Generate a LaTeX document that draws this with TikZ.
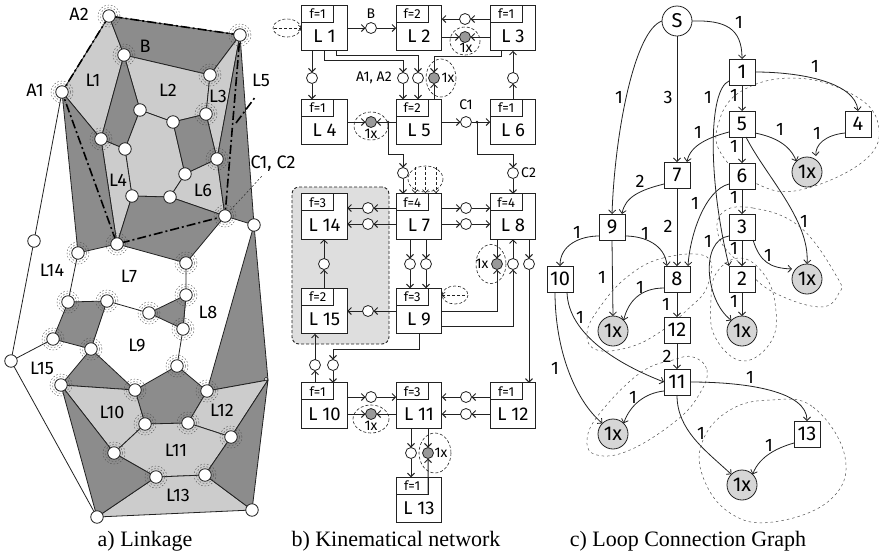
\documentclass[tikz,border=0pt]{standalone}
\usepackage{fontspec}
\setmainfont{Fira Sans}
\newfontfamily\capfont{Liberation Serif}
\usetikzlibrary{arrows.meta}
\definecolor{lgray}{HTML}{CCCCCC}
\definecolor{dgray}{HTML}{8C8C8C}
\definecolor{bggray}{HTML}{DEDEDE}
\definecolor{ball}{HTML}{999999}
\definecolor{ballb}{HTML}{D6D6D6}
\definecolor{ink}{HTML}{222222}
\newcommand{\fs}[1]{\fontsize{#1}{#1}\selectfont}
\tikzset{
  lightp/.style={fill=lgray,draw=ink,line width=.8pt,line join=round},
  darkp/.style={fill=dgray,draw=ink,line width=.8pt,line join=round},
  wire/.style={draw=ink,line width=.8pt},
  chain/.style={draw=black,line width=1.6pt,dash pattern=on 9pt off 3pt on 2pt off 3pt},
  joint/.style={circle,draw=ink,fill=white,line width=.8pt,minimum size=12.5pt,inner sep=0pt,outer sep=0pt},
  ringa/.style={circle,draw=ink!80,dash pattern=on 1.6pt off 1.8pt,line width=.4pt,minimum size=17pt,inner sep=0pt},
  ringb/.style={circle,draw=ink!80,dash pattern=on 1.6pt off 1.8pt,line width=.4pt,minimum size=22pt,inner sep=0pt},
  lab/.style={inner sep=0pt,font=\fs{18}},
  netbox/.style={draw=ink,fill=white,line width=1pt,minimum width=45.5pt,minimum height=45.5pt,inner sep=0pt,outer sep=0pt,font=\fs{18.5}},
  fbox/.style={draw=ink,fill=white,line width=1pt,minimum width=32pt,minimum height=17pt,inner sep=0pt,outer sep=0pt,anchor=north west,font=\fs{13}},
  pin/.style={circle,draw=ink,fill=white,line width=.8pt,minimum size=11pt,inner sep=0pt,outer sep=0pt},
  gpin/.style={pin,fill=ball},
  arr/.style={draw=ink,line width=1pt,-{Straight Barb[length=3.5pt,width=7pt,line width=1pt]}},
  dashar/.style={draw=ink,line width=.6pt,densely dashed,-{Straight Barb[length=3pt,width=6pt]}},
  ell/.style={draw=ink,line width=.6pt,densely dashed},
  small/.style={inner sep=0pt,font=\fs{14}},
  gbox/.style={draw=ink,fill=white,line width=.9pt,minimum size=26pt,inner sep=0pt,outer sep=0pt,font=\fs{20}},
  gball/.style={circle,draw=ink,fill=ballb,line width=.8pt,minimum size=30pt,inner sep=0pt,outer sep=0pt,font=\fs{20}},
  gS/.style={gball,fill=white},
  gedge/.style={draw=ink,line width=.8pt,-{Straight Barb[length=3.5pt,width=7pt]}},
  blob/.style={draw=ink!80,line width=.5pt,dash pattern=on 2.5pt off 3pt},
  caption/.style={inner sep=0pt,font=\capfont\fs{22}}
}
\begin{document}
\begin{tikzpicture}[x=1pt,y=-1pt]
\useasboundingbox (0,0) rectangle (879,558);
% ------------- a) Linkage -------------
\foreach \n/\x/\y in {A2/109/16,R/240/35,B/124/55,Pa/210/75,A1/62/92,a/140/110,b/173/122,c/206/114,d/101/139,e/125/149,f/217/159,g/185/174,h/132/196,i/170/197,C/225/216,k/254/225,m/117/244,n/78/253,o/186/263,p/34/241,q/68/302,r/107/301,s/149/313,t/186/295,u/183/329,v/53/339,w/91/349,x/11/361,y/177/366,z/61/385,aa/135/390,ab/207/391,ac/145/424,ad/188/423,ae/231/437,af/114/453,ag/156/477,ah/205/475,ai/252/510,aj/97/517,ak/268/380}
  \coordinate (\n) at (\x,\y);
\draw[wire] (A1)--(p)--(x)--(v) (x)--(aj) (n)--(q) (o)--(t)--(u)--(y) (r)--(s);
\draw[lightp] (A1)--(A2)--(B)--(d)--cycle;
\draw[darkp] (A2)--(R)--(Pa)--(B)--cycle;
\draw[lightp] (B)--(Pa)--(c)--(b)--(a)--cycle;
\draw[darkp] (B)--(a)--(e)--(d)--cycle;
\draw[lightp] (R)--(Pa)--(c)--(f)--cycle;
\draw[lightp] (a)--(b)--(g)--(i)--(h)--(e)--cycle;
\draw[darkp] (b)--(c)--(f)--(g)--cycle;
\draw[lightp] (f)--(C)--(i)--(g)--cycle;
\draw[lightp] (d)--(e)--(h)--(m)--cycle;
\draw[darkp] (h)--(i)--(C)--(o)--(m)--cycle;
\draw[darkp] (A1)--(d)--(m)--(n)--cycle;
\draw[darkp] (R)--(k)--(C)--(f)--cycle;
\draw[darkp] (k)--(ak)--(ab)--cycle;
\draw[darkp] (q)--(r)--(w)--(v)--cycle;
\draw[darkp] (s)--(t)--(u)--cycle;
\draw[darkp] (w)--(aa)--(z)--cycle;
\draw[darkp] (y)--(ab)--(ad)--(ac)--(aa)--cycle;
\draw[lightp] (z)--(aa)--(ac)--(af)--cycle;
\draw[lightp] (ab)--(ak)--(ae)--(ad)--cycle;
\draw[lightp] (ac)--(ad)--(ae)--(ah)--(ag)--(af)--cycle;
\draw[lightp] (ag)--(ah)--(ai)--(aj)--cycle;
\draw[darkp] (z)--(af)--(ag)--(aj)--cycle;
\draw[darkp] (ak)--(ai)--(ah)--(ae)--cycle;
\draw[chain] (A2)--(A1)--(m)--(C)--(R)--cycle;
\coordinate (L5a) at (236,123);
\coordinate (L5b) at (256,96);
\draw[chain] (L5a)--(L5b);
\coordinate (Cl) at (262,176);
\draw[draw=ink,line width=.5pt,dash pattern=on 2pt off 2pt] (C)--(Cl);
\foreach \n in {A2,R,B,Pa,A1,c,d,f,C,m,n,o,q,r,s,t,u,v,w,y,z,aa,ab,ac,ad,ae,af,ag,ah} {
  \node[ringa] (ra\n) at (\n) {};
  \node[ringb] (rb\n) at (\n) {};
}
\foreach \n in {A2,R,B,Pa,A1,a,b,c,d,e,f,g,h,i,C,k,m,n,o,p,q,r,s,t,u,v,w,x,y,z,aa,ab,ac,ad,ae,af,ag,ah,ai,aj}
  \node[joint] (j\n) at (\n) {};
\node[circle,draw=ink,line width=.4pt,fill=white,minimum size=3.5pt,inner sep=0pt] (jak) at (266,379) {};
\foreach \x/\y/\t [count=\i] in {79/14/A2,35/90/A1,145/46/B,93/80/L1,168/90/L2,218/96/L3,118/180/L4,261/80/L5,203/190/L6,273/164/{C1, C2},129/276/L7,52/270/L14,208/312/L8,137/345/L9,42/368/L15,112/412/L10,176/450/L11,222/410/L12,178/495/L13}
  \node[lab] (la\i) at (\x,\y) {\t};
% ------------- b) Kinematical network -------------
\node[draw=ink,densely dashed,line width=.9pt,fill=bggray,rounded corners=7pt,minimum width=97pt,minimum height=157pt,inner sep=0pt] (group) at (340.5,265.5) {};
\foreach \n/\x/\y/\f/\t in {L1/324.5/28/1/L 1,L2/419/28/2/L 2,L3/513/28/1/L 3,L4/324.5/122/1/L 4,L5/419/122/2/L 5,L6/513/122/1/L 6,L14/324.5/216.5/3/L 14,L7/419/216.5/4/L 7,L8/513/216.5/4/L 8,L15/324.5/311/2/L 15,L9/419/311/3/L 9,L10/324.5/405.5/1/L 10,L11/419/405.5/3/L 11,L12/513/405.5/1/L 12,L13/419/500/1/L 13} {
  \node[netbox] (\n) at (\x,\y) {\raisebox{-14.5pt}[0pt][0pt]{\t}};
  \node[fbox] (f\n) at (\n.north west) {f=\f};
}
% dashed ellipses
\draw[ell] (287,28) ellipse [x radius=14,y radius=9];
\draw[ell] (465,41) ellipse [x radius=15,y radius=14];
\draw[ell] (441,78) ellipse [x radius=15,y radius=19];
\draw[ell] (371,126) ellipse [x radius=17,y radius=14];
\draw[ell] (425.5,179) ellipse [x radius=17.5,y radius=13];
\draw[ell] (491,264) ellipse [x radius=15,y radius=19.5];
\draw[ell] (455,295) ellipse [x radius=13,y radius=9];
\draw[ell] (371,419) ellipse [x radius=18,y radius=14];
\draw[ell] (435,453) ellipse [x radius=16,y radius=20];
% pins
\foreach \n/\x/\y in {cB/371/28,cT/465/19,c14/312/78,cA/403/78,cAb/418/78,c63/513/78,cC/466/122,c7/403/173,cD/513/173,cTa/368/208,cTb/368/224,cUa/466/208,cUb/466/224,cVa/410/264,cVb/426/264,cWa/513/264,cWb/529/264,cX/324/264,cY/368/311,cZa/315/365,cZb/333/365,dA/371/397,dB/466/397,dC/466/414,dE/411/453}
  \node[pin] (\n) at (\x,\y) {};
\foreach \n/\x/\y in {g1/465/37,g2/434/78,g3/371/122,g4/497/264,g5/371/414,g6/428/453}
  \node[gpin] (\n) at (\x,\y) {};
% connectors, row 1
\draw[arr] (L1.east |- cB) -- (cB.west);
\draw[arr] (cB.east) -- (L2.west |- cB);
\draw[arr] (L3.west |- cT) -- (cT.east);
\draw[arr] (cT.west) -- (L2.east |- cT);
\draw[arr] (L3.west |- g1) -- (g1.east);
\draw[arr] (L2.east |- g1) -- (g1.west);
% row 1-2
\draw[arr] (L1.south -| c14) -- (c14.north);
\draw[arr] (c14.south) -- (L4.north -| c14);
\coordinate (k1) at (336.5,55); \coordinate (k2) at (324,60);
\draw[arr] (L1.south -| k1) -- (k1) -- (k1 -| cAb) -- (cAb.north);
\draw[arr] (L1.south -| k2) -- (k2) -- (k2 -| cA) -- (cA.north);
\draw[arr] (cA.south) -- (L5.north -| cA);
\draw[arr] (cAb.south) -- (L5.north -| cAb);
\coordinate (k3) at (501,56);
\draw[arr] (L3.south -| k3) -- (k3) -- (k3 -| g2) -- (g2.north);
\draw[arr] (L5.north -| g2) -- (g2.south);
\draw[arr] (L6.north -| c63) -- (c63.south);
\draw[arr] (c63.north) -- (L3.south -| c63);
% row 2
\draw[arr] (L4.east |- g3) -- (g3.west);
\draw[arr] (L5.west |- g3) -- (g3.east);
\draw[arr] (L5.east |- cC) -- (cC.west);
\draw[arr] (cC.east) -- (L6.west |- cC);
\coordinate (k4) at (388,122); \coordinate (k5) at (388,154);
\draw[arr] (k4) -- (k5) -- (k5 -| c7) -- (c7.north);
\fill[ink] (k4) circle [radius=1.5];
\coordinate (k6) at (477,122); \coordinate (k7) at (477,154);
\draw[arr] (k6) -- (k7) -- (k7 -| cD) -- (cD.north);
\fill[ink] (k6) circle [radius=1.5];
\node[small,anchor=west] (tC) at (521,173) {C2};
\draw[arr] (c7.south) -- (L7.north -| c7);
\draw[arr] (cD.south) -- (L8.north -| cD);
\foreach \q in {415,425.5,436} \draw[dashar] (\q,167) -- (\q,193);
% row 3
\draw[arr] (L7.west |- cTa) -- (cTa.east);
\draw[arr] (cTa.west) -- (L14.east |- cTa);
\draw[arr] (L7.west |- cTb) -- (cTb.east);
\draw[arr] (cTb.west) -- (L14.east |- cTb);
\draw[arr] (L7.east |- cUa) -- (cUa.west);
\draw[arr] (cUa.east) -- (L8.west |- cUa);
\draw[arr] (L7.east |- cUb) -- (cUb.west);
\draw[arr] (cUb.east) -- (L8.west |- cUb);
\draw[arr] (L7.south -| cVa) -- (cVa.north);
\draw[arr] (cVa.south) -- (L9.north -| cVa);
\draw[arr] (L7.south -| cVb) -- (cVb.north);
\draw[arr] (cVb.south) -- (L9.north -| cVb);
\draw[arr] (L15.north -| cX) -- (cX.south);
\draw[arr] (cX.north) -- (L14.south -| cX);
\draw[arr] (L9.west |- cY) -- (cY.east);
\draw[arr] (cY.west) -- (L15.east |- cY);
\draw[arr] (L8.south -| g4) -- (g4.north);
\coordinate (k8) at (442,311); \coordinate (k9) at (442,326);
\draw[arr] (k8) -- (k8 -| g4) -- (g4.south);
\draw[arr] (k9) -- (k9 -| cWa) -- (cWa.south);
\draw[arr] (cWa.north) -- (L8.south -| cWa);
\draw[arr] (L8.south -| cWb) -- (cWb.north);
\draw[arr] (cWb.south) -- (L12.north -| cWb);
\draw[dashar] (465,295) -- (L9.east |- 0,295);
\draw[dashar] (274,28) -- (L1.west |- 0,28);
% row 4
\coordinate (k10) at (419,349);
\draw[arr] (L9.south -| k10) -- (k10) -- (k10 -| cZb) -- (cZb.north);
\draw[arr] (cZb.south) -- (L10.north -| cZb);
\draw[arr] (L10.north -| cZa) -- (cZa.south);
\draw[arr] (cZa.north) -- (L15.south -| cZa);
\draw[arr] (L10.east |- dA) -- (dA.west);
\draw[arr] (dA.east) -- (L11.west |- dA);
\draw[arr] (L10.east |- g5) -- (g5.west);
\draw[arr] (L11.west |- g5) -- (g5.east);
\draw[arr] (L12.west |- dB) -- (dB.east);
\draw[arr] (dB.west) -- (L11.east |- dB);
\draw[arr] (L12.west |- dC) -- (dC.east);
\draw[arr] (dC.west) -- (L11.east |- dC);
\draw[arr] (L11.south -| dE) -- (dE.north);
\draw[arr] (dE.south) -- (L13.north -| dE);
\draw[arr] (L11.south -| g6) -- (g6.north);
\draw[arr] (fL13.south east) -- (g6.south);
% network labels
\foreach \x/\y/\t [count=\i] in {371/14/B,374/78/{A1, A2},466/105/C1,466/48/1x,448/78/1x,371/134/1x,482/264/1x,371/426/1x,441/453/1x}
  \node[small] (nl\i) at (\x,\y) {\t};
% ------------- c) Loop Connection Graph -------------
\draw[blob] plot[smooth cycle,tension=.7] coordinates {(740,92)(793,78)(850,93)(878,123)(865,160)(800,190)(755,183)(722,155)(718,125)};
\draw[blob] plot[smooth cycle,tension=.7] coordinates {(722,213)(753,208)(800,227)(837,277)(839,293)(820,307)(773,292)(745,268)(720,240)};
\draw[blob] plot[smooth cycle,tension=.7] coordinates {(740,258)(763,273)(775,303)(772,340)(743,361)(715,337)(711,300)(717,272)};
\draw[blob] plot[smooth cycle,tension=.7] coordinates {(627,277)(663,258)(707,257)(707,287)(687,310)(660,332)(630,347)(597,350)(587,333)(600,307)};
\draw[blob] plot[smooth cycle,tension=.7] coordinates {(693,357)(707,370)(700,393)(677,420)(630,450)(597,455)(587,440)(600,413)(640,373)(673,360)};
\draw[blob] plot[smooth cycle,tension=.7] coordinates {(770,400)(813,407)(845,457)(830,500)(773,522)(730,513)(703,477)(703,440)(730,410)};
\node[gS] (S) at (677,21) {S};
\foreach \n/\x/\y/\t in {n1/742/72/1,n5/742/124/5,n6/742/176/6,n3/742/227/3,n2/742/279/2,n7/677/175/7,n9/612/227/9,n10/560/279/10,n8/677/279/8,n12/677/330/12,n11/677/382/11,n13/807/434/13,n4/858/124/4}
  \node[gbox] (\n) at (\x,\y) {\t};
\foreach \n/\x/\y in {xa/807/172,xb/807/279,xc/613/331,xd/742/331,xe/613/434,xf/742/485}
  \node[gball] (\n) at (\x,\y) {1x};
\draw[gedge] (S.east) .. controls (725,20) and (742,28) .. (n1.north);
\draw[gedge] (S.south) -- (n7.north);
\draw[gedge] (S.west) .. controls (635,30) and (615,130) .. (n9.north);
\draw[gedge] (n1.east) .. controls (800,72) and (855,82) .. (n4.north);
\draw[gedge] (n1.south) -- (n5.north);
\draw[gedge] ([yshift=4pt]n1.south west) .. controls (708,90) and (708,180) .. ([xshift=-13pt]n2.north);
\draw[gedge] (n5.south) -- (n6.north);
\draw[gedge] ([yshift=5pt]n5.south west) .. controls (710,137) and (690,145) .. ([xshift=10pt]n7.north);
\draw[gedge] ([yshift=4pt]n5.south east) .. controls (775,137) and (790,145) .. (xa.north west);
\draw[gedge] ([yshift=4pt]n4.south west) .. controls (825,135) and (815,145) .. ([xshift=9pt,yshift=1pt]xa.north);
\draw[gedge] ([xshift=4pt]n5.south) .. controls (765,175) and (810,220) .. (xb.north);
\draw[gedge] ([yshift=5pt]n6.south west) .. controls (705,190) and (690,235) .. ([xshift=11pt]n8.north);
\draw[gedge] (n6.south) -- (n3.north);
\draw[gedge] ([yshift=4pt]n7.south west) .. controls (640,190) and (625,197) .. ([xshift=10pt]n9.north);
\draw[gedge] (n7.south) -- (n8.north);
\draw[gedge] ([yshift=4pt]n9.south west) .. controls (580,236) and (560,245) .. (n10.north);
\draw[gedge] ([yshift=4pt]n9.south east) .. controls (645,236) and (665,245) .. ([xshift=-10pt]n8.north);
\draw[gedge] (n9.south) -- (xc.north);
\draw[gedge] ([yshift=4pt]n3.south west) .. controls (700,240) and (705,300) .. (xd.north west);
\draw[gedge] (n3.south) -- (n2.north);
\draw[gedge] ([xshift=11pt]n3.south) .. controls (760,262) and (770,268) .. (xb.west |- 0,269);
\draw[gedge] (n2.south) -- (xd.north);
\draw[gedge] ([yshift=4pt]n8.south west) .. controls (640,288) and (628,302) .. (xc.north east);
\draw[gedge] (n8.south) -- (n12.north);
\draw[gedge] (n12.south) -- (n11.north);
\draw[gedge] ([xshift=7pt]n10.south) .. controls (568,335) and (620,365) .. (n11.west);
\draw[gedge] ([xshift=-5pt]n10.south) .. controls (555,350) and (575,400) .. (xe.north west);
\draw[gedge] ([yshift=4pt]n11.south west) .. controls (645,393) and (630,405) .. (xe.north east);
\draw[gedge] (n11.east) .. controls (750,382) and (807,392) .. (n13.north);
\draw[gedge] (n11.south) .. controls (677,430) and (705,450) .. (xf.north west);
\draw[gedge] ([yshift=4pt]n13.south west) .. controls (780,447) and (760,455) .. (xf.north east);
\foreach \x/\y/\t [count=\i] in {739/22/1,668/97/3,619/97/1,815/66/1,734/95/1,708/97/1,698/132/1,734/146/1,780/129/1,817/133/1,804/221/1,695/203/1,734/197/1,640/181/2,668/226/2,577/232/1,645/233/1,602/277/1,708/241/1,734/248/1,768/255/1,734/301/1,640/287/1,666/304/1,667/356/2,580/317/1,555/368/1,633/397/1,750/377/1,701/433/1,769/445/1}
  \node[lab] (el\i) at (\x,\y) {\t};
% ------------- captions -------------
\node[caption] (capa) at (145,541) {a) Linkage};
\node[caption] (capb) at (396,541) {b) Kinematical network};
\node[caption] (capc) at (688,541) {c) Loop Connection Graph};
\end{tikzpicture}
\end{document}
